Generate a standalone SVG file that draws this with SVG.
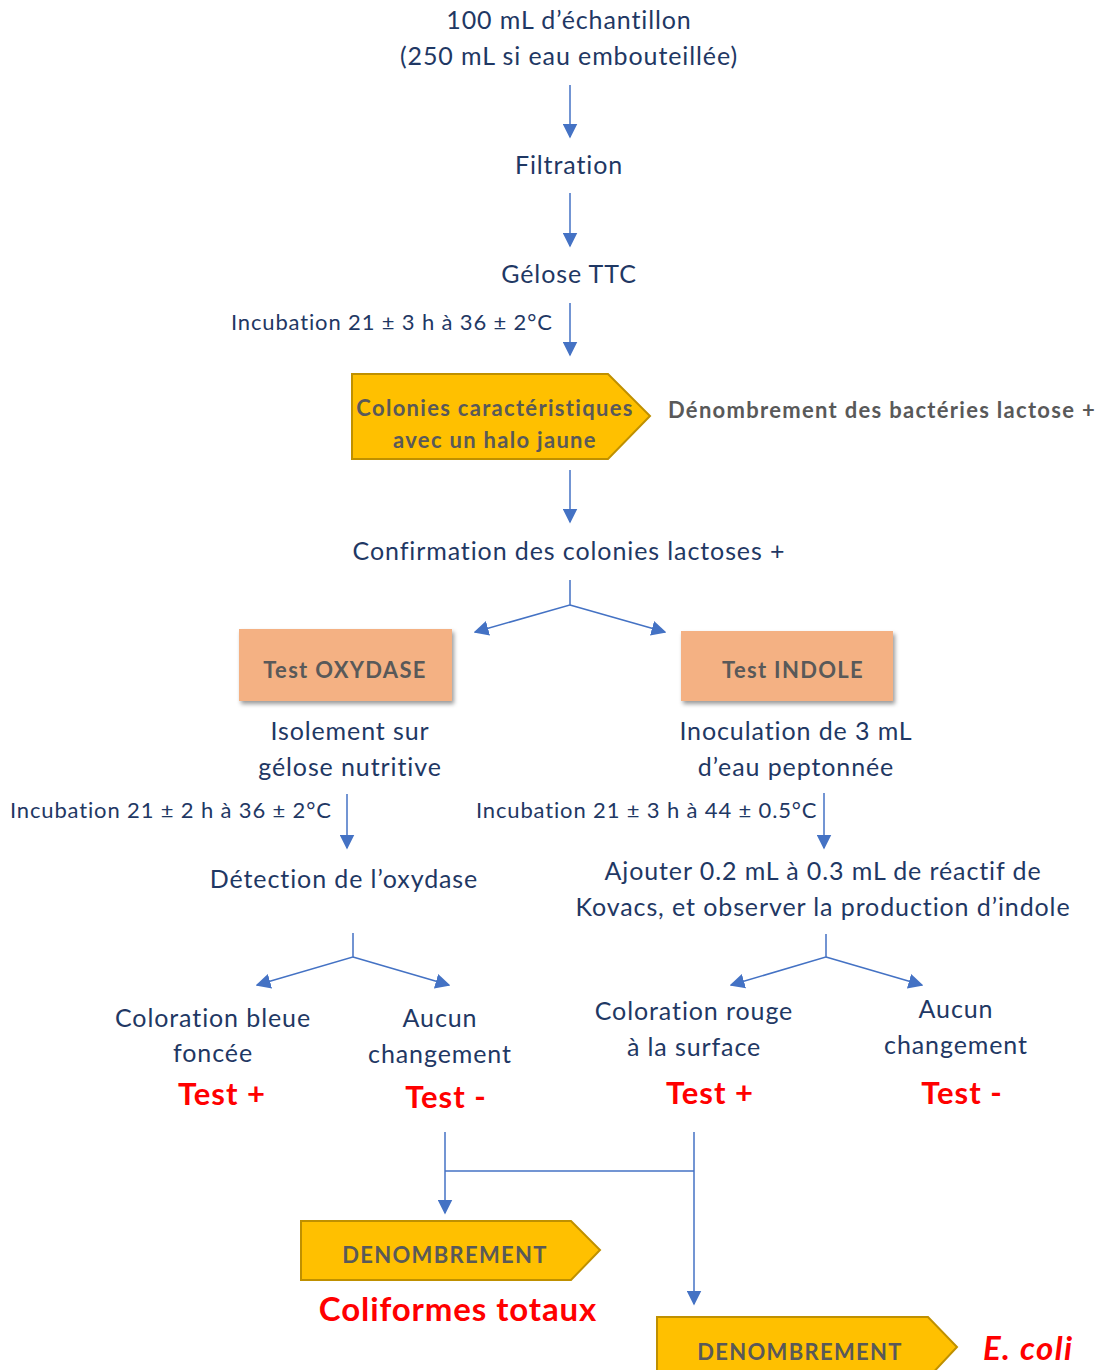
<svg xmlns="http://www.w3.org/2000/svg" width="1104" height="1370" viewBox="0 0 1104 1370">
<defs>
<marker id="ahb" viewBox="0 0 10 10" refX="9" refY="5" markerWidth="15" markerHeight="15" markerUnits="userSpaceOnUse" orient="auto">
<path d="M0,0 L10,5 L0,10 z" fill="#4472C4"/>
</marker>
<filter id="sh" x="-10%" y="-10%" width="125%" height="135%">
<feDropShadow dx="2" dy="3" stdDeviation="2" flood-color="#000" flood-opacity="0.4"/>
</filter>
<style>
text{font-family:Lato,"Open Sans","Liberation Sans",sans-serif}
.t{font-size:25px;letter-spacing:0.9px;fill:#1F3864;text-anchor:middle}
.s{font-size:22px;letter-spacing:0.85px;fill:#1F3864}
.b{font-size:22px;letter-spacing:1.3px;font-weight:bold;fill:#595959;text-anchor:middle}
.r{font-size:31px;letter-spacing:1px;font-weight:bold;fill:#FF0000;text-anchor:middle}
.c{stroke:#4472C4;stroke-width:1.5;fill:none}
.y{fill:#FFC000;stroke:#BF9000;stroke-width:2}
.o{fill:#F4B183}
</style>
</defs>
<g id="connectors">
<line class="c" x1="570" y1="85" x2="570" y2="137" marker-end="url(#ahb)"/>
<line class="c" x1="570" y1="193" x2="570" y2="246" marker-end="url(#ahb)"/>
<line class="c" x1="570" y1="303" x2="570" y2="355" marker-end="url(#ahb)"/>
<line class="c" x1="570" y1="470" x2="570" y2="522" marker-end="url(#ahb)"/>
<polyline class="c" points="570,580 570,605 475,632" marker-end="url(#ahb)"/>
<polyline class="c" points="570,605 665,632" marker-end="url(#ahb)"/>
<line class="c" x1="347" y1="794" x2="347" y2="848" marker-end="url(#ahb)"/>
<line class="c" x1="824" y1="793" x2="824" y2="848" marker-end="url(#ahb)"/>
<polyline class="c" points="353,933 353,957 257,985" marker-end="url(#ahb)"/>
<polyline class="c" points="353,957 449,985" marker-end="url(#ahb)"/>
<polyline class="c" points="826,934 826,957 731,985" marker-end="url(#ahb)"/>
<polyline class="c" points="826,957 922,985" marker-end="url(#ahb)"/>
<line class="c" x1="445" y1="1132" x2="445" y2="1213" marker-end="url(#ahb)"/>
<line class="c" x1="694" y1="1132" x2="694" y2="1304" marker-end="url(#ahb)"/>
<line class="c" x1="445" y1="1171" x2="694" y2="1171"/>
</g>
<g id="sample"><text class="t" x="569" y="29">100 mL d’échantillon</text><text class="t" x="569" y="65">(250 mL si eau embouteillée)</text></g>
<g id="filtration"><text class="t" x="569" y="174">Filtration</text></g>
<g id="gelose"><text class="t" x="569" y="283">Gélose TTC</text></g>
<g id="incub1"><text class="s" x="231" y="330">Incubation 21 ± 3 h à 36 ± 2°C</text></g>
<g id="colonies">
<polygon class="y" points="352,374 608,374 650,416 608,459 352,459"/>
<text class="b" x="495" y="416">Colonies caractéristiques</text>
<text class="b" x="495" y="448">avec un halo jaune</text>
</g>
<g id="denombrement-lactose"><text class="b" x="882" y="418">Dénombrement des bactéries lactose +</text></g>
<g id="confirmation"><text class="t" x="569" y="560">Confirmation des colonies lactoses +</text></g>
<g id="oxydase">
<rect class="o" x="239" y="629" width="213" height="72" filter="url(#sh)"/>
<text class="b" x="345" y="678">Test OXYDASE</text>
</g>
<g id="indole">
<rect class="o" x="681" y="631" width="212" height="70" filter="url(#sh)"/>
<text class="b" x="793" y="678">Test INDOLE</text>
</g>
<g id="isolement"><text class="t" x="350" y="740">Isolement sur</text><text class="t" x="350" y="776">gélose nutritive</text></g>
<g id="inoculation"><text class="t" x="796" y="740">Inoculation de 3 mL</text><text class="t" x="796" y="776">d’eau peptonnée</text></g>
<g id="incub2"><text class="s" x="10" y="818">Incubation 21 ± 2 h à 36 ± 2°C</text></g>
<g id="incub3"><text class="s" x="476" y="818">Incubation 21 ± 3 h à 44 ± 0.5°C</text></g>
<g id="detection"><text class="t" x="344" y="888">Détection de l’oxydase</text></g>
<g id="kovacs"><text class="t" x="823" y="880">Ajouter 0.2 mL à 0.3 mL de réactif de</text><text class="t" x="823" y="916">Kovacs, et observer la production d’indole</text></g>
<g id="bleue"><text class="t" x="213" y="1027">Coloration bleue</text><text class="t" x="213" y="1062">foncée</text><text class="r" x="222" y="1105">Test +</text></g>
<g id="aucun1"><text class="t" x="440" y="1027">Aucun</text><text class="t" x="440" y="1063">changement</text><text class="r" x="446" y="1108">Test -</text></g>
<g id="rouge"><text class="t" x="694" y="1020">Coloration rouge</text><text class="t" x="694" y="1056">à la surface</text><text class="r" x="710" y="1104">Test +</text></g>
<g id="aucun2"><text class="t" x="956" y="1018">Aucun</text><text class="t" x="956" y="1054">changement</text><text class="r" x="962" y="1104">Test -</text></g>
<g id="denombrement1">
<polygon class="y" points="301,1221 571,1221 600,1250 571,1280 301,1280"/>
<text class="b" x="445" y="1263">DENOMBREMENT</text>
<text class="r" x="458" y="1321" style="font-size:33px;letter-spacing:0.9px">Coliformes totaux</text>
</g>
<g id="denombrement2">
<polygon class="y" points="657,1317 928,1317 957,1347 928,1378 657,1378"/>
<text class="b" x="800" y="1360">DENOMBREMENT</text>
<text class="r" x="983" y="1360" style="font-size:33px;letter-spacing:1.4px;font-style:italic;text-anchor:start">E. coli</text>
</g>
</svg>
